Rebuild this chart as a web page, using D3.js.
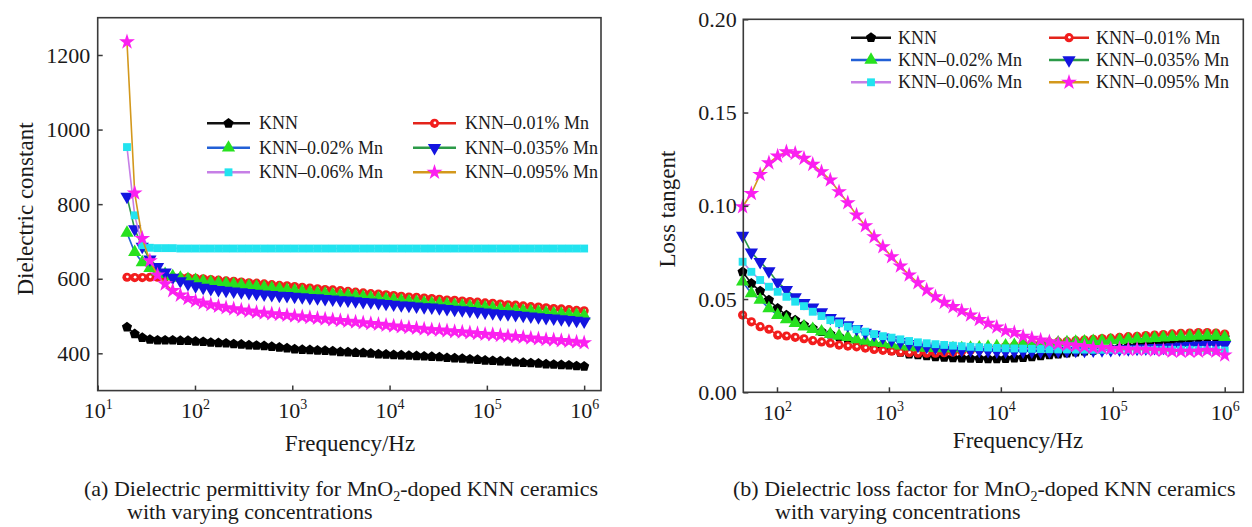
<!DOCTYPE html>
<html>
<head>
<meta charset="utf-8">
<script src="https://cdn.jsdelivr.net/npm/d3@7"></script>
<style>
  body { margin: 0; background: #fff; }
  svg text { font-family: "Liberation Serif", "Times New Roman", serif; fill: #1a1a1a; }
</style>
</head>
<body>
<svg id="fig" width="1252" height="527"></svg>
<script>
// measuring frequencies (Hz)
const freq = [20, 24, 28.7, 34.4, 41.2, 49.3, 59, 70.7, 84.7, 101.4,
  121.4, 145.4, 174.2, 208.6, 249.9, 299.3, 358.4, 429, 513.8, 615.4,
  737, 882.7, 1057, 1266, 1516, 1816, 2175, 2604, 3119, 3736,
  4472, 5356, 6415, 7683, 9199, 11018, 13196, 15803, 18926, 22669,
  27150, 32518, 38946, 46645, 55869, 66908, 80137, 95913, 114874, 137594,
  164790, 197374, 236380, 283118, 339100, 406140, 486430, 582540, 697740, 835700, 1000000];

// (a) dielectric constant
const epsKNN = [470,452,442,437,435,435,435,434,434,432, 431,429,428,427,425,424,422,421,420,418,
  416,414,411,410,409,408,407,406,404,403, 402,401,400,398,397,396,395,394,393,392,
  391,390,388,387,386,384,383,381,380,379, 378,376,375,374,373,371,370,369,368,366,365];
const epsMn01 = [604,603,603,604,604,604,604,603,603,601, 600,598,596,594,593,591,589,588,586,584,
  582,581,579,577,575,573,571,570,568,566, 564,562,560,559,557,555,553,551,550,548,
  547,545,543,542,540,539,537,535,534,532, 530,529,527,525,524,522,520,519,517,515,514];
const epsMn02 = [723,671,644,628,619,612,606,602,599,596, 593,591,589,587,585,583,581,579,577,575,
  573,570,568,566,564,562,560,558,556,555, 553,551,549,547,545,543,541,539,538,536,
  534,533,531,529,528,526,525,523,521,519, 518,516,514,513,511,509,507,506,504,503,501];
const epsMn035 = [820,733,686,652,632,617,603,594,586,580, 576,573,570,568,566,564,562,560,558,557,
  555,554,552,551,549,548,546,545,543,542, 540,538,537,535,533,531,529,528,526,524,
  523,521,519,517,516,514,512,510,508,506, 505,503,501,499,497,495,494,492,490,488,486];
const epsMn06 = [953,770,690,683,682,682,682,681,681,681, 681,681,681,681,681,681,681,681,681,681,
  681,681,681,681,681,681,681,681,681,681, 681,681,681,681,681,681,681,681,681,681,
  681,681,681,681,681,681,681,681,681,681, 681,681,681,681,681,681,681,681,681,681,681];
const epsMn095 = [1235,830,708,648,610,586,568,556,547,540, 535,530,526,522,519,516,513,510,508,506,
  504,502,500,498,496,494,492,490,488,486, 484,482,480,478,475,473,471,469,467,465,
  463,462,460,458,457,455,453,451,450,448, 446,445,443,441,439,437,436,434,432,430,428];

// (b) loss tangent, measured from 50 Hz (freq[5]) upward
const freqB = freq.slice(5);
const tanKNN = [0.0646,0.0584,0.0543,0.0495,0.045,0.0414,0.0387,0.036,0.0343,0.0325,
  0.0312,0.0298,0.0284,0.0271,0.0259,0.0248,0.0236,0.0223,0.0214,0.0205,
  0.020,0.0195,0.019,0.0187,0.0184,0.0183,0.0181,0.018,0.0179,0.0179,
  0.018,0.0183,0.0186,0.019,0.0195,0.020,0.0205,0.021,0.0215,0.022,
  0.0225,0.023,0.0235,0.024,0.0245,0.025,0.0255,0.026,0.0265,0.027,
  0.0275,0.028,0.0285,0.029,0.0293,0.0295];
const tanMn01 = [0.0414,0.0378,0.0352,0.0338,0.0307,0.0302,0.0295,0.0287,0.0277,0.027,
  0.0263,0.0253,0.0248,0.0244,0.0237,0.023,0.0225,0.022,0.0215,0.0212,
  0.021,0.021,0.021,0.0212,0.0215,0.022,0.0225,0.023,0.0235,0.024,
  0.0245,0.025,0.0255,0.026,0.0263,0.0266,0.027,0.0273,0.0277,0.028,
  0.0284,0.0288,0.029,0.0294,0.0298,0.030,0.0304,0.0307,0.031,0.0313,
  0.0316,0.0318,0.032,0.032,0.0318,0.0312];
const tanMn02 = [0.0593,0.053,0.0495,0.045,0.0414,0.0391,0.037,0.0352,0.0338,0.0325,
  0.0312,0.0302,0.0295,0.0284,0.0275,0.0268,0.0263,0.0257,0.025,0.0244,
  0.0241,0.0238,0.0236,0.0235,0.0235,0.0236,0.0238,0.024,0.0243,0.0246,
  0.025,0.0253,0.0256,0.026,0.0262,0.0264,0.0266,0.0268,0.027,0.0272,
  0.0274,0.0276,0.0278,0.028,0.0283,0.0286,0.0288,0.029,0.0293,0.0296,
  0.0298,0.030,0.0302,0.0303,0.0302,0.0295];
const tanMn035 = [0.084,0.075,0.070,0.065,0.059,0.055,0.051,0.048,0.0455,0.043,
  0.040,0.038,0.036,0.034,0.032,0.031,0.0295,0.028,0.027,0.026,
  0.025,0.0245,0.024,0.0235,0.023,0.0228,0.0226,0.0224,0.0222,0.022,
  0.022,0.022,0.022,0.022,0.022,0.022,0.0221,0.0222,0.0223,0.0224,
  0.0225,0.0226,0.0228,0.023,0.0232,0.0234,0.0236,0.0238,0.024,0.0243,
  0.0246,0.0249,0.0252,0.0254,0.0255,0.0255];
const tanMn06 = [0.070,0.0646,0.0602,0.0566,0.0539,0.0512,0.0486,0.0462,0.0432,0.0409,
  0.0387,0.037,0.0352,0.0338,0.0325,0.0312,0.0301,0.0293,0.0284,0.0275,
  0.0268,0.0263,0.0258,0.0254,0.025,0.0247,0.0244,0.0242,0.024,0.0238,
  0.0236,0.0235,0.0234,0.0233,0.0232,0.0231,0.023,0.023,0.0229,0.0229,
  0.0228,0.0228,0.0228,0.0228,0.0228,0.0228,0.0228,0.0228,0.0228,0.0228,
  0.0228,0.0228,0.0227,0.0226,0.0225,0.0224];
const tanMn095 = [0.0995,0.1066,0.1168,0.123,0.1266,0.1289,0.1281,0.1254,0.1222,0.1182,
  0.1138,0.1075,0.1016,0.095,0.0893,0.0834,0.078,0.0727,0.0677,0.0629,
  0.0587,0.0548,0.0512,0.0482,0.0459,0.0437,0.0414,0.039,0.037,0.035,
  0.033,0.032,0.030,0.029,0.028,0.027,0.026,0.0255,0.025,0.0245,
  0.024,0.024,0.0235,0.0235,0.023,0.023,0.023,0.0225,0.0225,0.022,
  0.022,0.022,0.022,0.0225,0.022,0.020];

const names = ["KNN", "KNN\u20130.01% Mn", "KNN\u20130.02% Mn", "KNN\u20130.035% Mn", "KNN\u20130.06% Mn", "KNN\u20130.095% Mn"];
const xTicksA = [10, 100, 1000, 1e4, 1e5, 1e6];
const xTicksB = [100, 1000, 1e4, 1e5, 1e6];
const yTicksA = [400, 600, 800, 1000, 1200];
const yTicksB = [0, 0.05, 0.10, 0.15, 0.20];

const lineColors = ["#111111", "#e3241b", "#2260d6", "#2b9a48", "#c67fe6", "#d3981c"];
const markColors = ["#000000", "#f21d1d", "#27e11f", "#1414e0", "#22e3ef", "#fb1ff0"];
const shapes = ["pentagon", "ring", "up", "down", "square", "star"];

const svg = d3.select("#fig");

const pentagon = {
  draw(ctx, size) {
    const r = Math.sqrt(size / 2.378);
    for (let i = 0; i < 5; i++) {
      const a = -Math.PI / 2 + i * 2 * Math.PI / 5;
      if (i) ctx.lineTo(r * Math.cos(a), r * Math.sin(a));
      else ctx.moveTo(r * Math.cos(a), r * Math.sin(a));
    }
    ctx.closePath();
  }
};

function drawMarker(g, shape, color) {
  if (shape === "ring") {
    g.append("circle").attr("r", 4.6).attr("fill", color);
    g.append("circle").attr("r", 1.4).attr("cx", 0.4).attr("cy", -0.4).attr("fill", "#fff");
    return;
  }
  let type = {pentagon: pentagon, up: d3.symbolTriangle, down: d3.symbolTriangle,
    square: d3.symbolSquare, star: d3.symbolStar}[shape];
  let size = {pentagon: 68, up: 76, down: 76, square: 62, star: 78}[shape];
  g.append("path")
    .attr("d", d3.symbol(type, size)())
    .attr("fill", color)
    .attr("transform", shape === "down" ? "rotate(180)" : null);
}

function panel(p) {
  let x = d3.scaleLog().domain(p.xDomain).range([p.left, p.right]);
  let y = d3.scaleLinear().domain(p.yDomain).range([p.bottom, p.top]);
  let g = svg.append("g");

  p.series.forEach((vals, i) => {
    let pts = vals.map((v, j) => [x(p.freq[j]), y(v)]);
    g.append("path")
      .attr("d", d3.line()(pts))
      .attr("fill", "none")
      .attr("stroke", lineColors[i])
      .attr("stroke-width", 1.6);
    g.append("g").selectAll("g")
      .data(pts)
      .join("g")
      .attr("transform", d => `translate(${d[0]},${d[1]})`)
      .each(function() { drawMarker(d3.select(this), shapes[i], markColors[i]); });
  });

  // frame
  g.append("rect")
    .attr("x", p.left).attr("y", p.top)
    .attr("width", p.right - p.left).attr("height", p.bottom - p.top)
    .attr("fill", "none").attr("stroke", "#3a3a3a").attr("stroke-width", 1.6);

  let ya = g.append("g")
    .attr("transform", `translate(${p.left},0)`)
    .call(d3.axisLeft(y).tickValues(p.yTicks).tickSize(-5).tickPadding(p.yPad).tickFormat(p.yFormat));
  ya.select(".domain").remove();
  ya.selectAll("line").attr("stroke", "#3a3a3a").attr("stroke-width", 1.5);
  ya.selectAll("text").attr("font-size", 22).attr("fill", "#1a1a1a");

  let xa = g.append("g")
    .attr("transform", `translate(0,${p.bottom})`)
    .call(d3.axisBottom(x).tickValues(p.xTicks).tickSize(-5).tickFormat(() => ""));
  xa.select(".domain").remove();
  xa.selectAll("line").attr("stroke", "#3a3a3a").attr("stroke-width", 1.5);
  xa.selectAll("text")
    .attr("y", 27.5).attr("dy", null)
    .attr("font-size", 22).attr("fill", "#1a1a1a")
    .each(function(d) {
      let t = d3.select(this);
      t.append("tspan").text("10");
      t.append("tspan").attr("font-size", 14).attr("dy", -9).text(Math.round(Math.log10(d)));
    });

  // axis titles
  g.append("text")
    .attr("transform", `translate(${p.yTitleX},${p.yTitleY}) rotate(-90)`)
    .attr("text-anchor", "middle")
    .attr("font-size", 23)
    .text(p.yTitle);
  g.append("text")
    .attr("x", p.xTitleX).attr("y", p.xTitleY)
    .attr("text-anchor", "middle")
    .attr("font-size", 23)
    .text("Frequency/Hz");

  // legend
  names.forEach((name, i) => {
    let col = i % 2, row = Math.floor(i / 2);
    let lx = p.legX[col], ly = p.legY + row * p.legDy;
    let lg = g.append("g");
    lg.append("line")
      .attr("x1", lx).attr("x2", lx + p.legLen)
      .attr("y1", ly).attr("y2", ly)
      .attr("stroke", lineColors[i]).attr("stroke-width", 2.4);
    drawMarker(lg.append("g").attr("transform", `translate(${lx + p.legLen / 2},${ly})`), shapes[i], markColors[i]);
    lg.append("text")
      .attr("x", lx + p.legLen + p.legGap).attr("y", ly)
      .attr("dy", "0.34em")
      .attr("font-size", 18)
      .text(name);
  });

  // caption
  let cap = g.append("text").attr("font-size", 22);
  cap.append("tspan").attr("x", p.capX).attr("y", p.capY).text(p.capHead + "MnO");
  cap.append("tspan").attr("font-size", 14).attr("dy", 5).text("2");
  cap.append("tspan").attr("dy", -5).text("-doped KNN ceramics");
  g.append("text").attr("font-size", 22)
    .attr("x", p.capX2).attr("y", p.capY + 23)
    .text("with varying concentrations");
}

panel({
  freq: freq,
  series: [epsKNN, epsMn01, epsMn02, epsMn035, epsMn06, epsMn095],
  xDomain: [10, 1.49e6], yDomain: [300, 1300],
  left: 97.7, right: 601, top: 17.7, bottom: 390.6,
  xTicks: xTicksA, yTicks: yTicksA, yFormat: d3.format("d"), yPad: 7.5,
  yTitle: "Dielectric constant", yTitleX: 33, yTitleY: 209,
  xTitleX: 350, xTitleY: 451,
  legX: [207, 413], legY: 123.3, legDy: 24.5, legLen: 43, legGap: 9,
  capX: 84, capX2: 127, capY: 496, capHead: "(a) Dielectric permittivity for "
});

panel({
  freq: freqB,
  series: [tanKNN, tanMn01, tanMn02, tanMn035, tanMn06, tanMn095],
  xDomain: [50, 1.466e6], yDomain: [0, 0.2],
  left: 743.3, right: 1243.3, top: 19.3, bottom: 392.3,
  xTicks: xTicksB, yTicks: yTicksB, yFormat: d3.format(".2f"), yPad: 6.6,
  yTitle: "Loss tangent", yTitleX: 675, yTitleY: 209,
  xTitleX: 1018, xTitleY: 448,
  legX: [851, 1049], legY: 37.7, legDy: 22.3, legLen: 40, legGap: 7,
  capX: 733, capX2: 775, capY: 496, capHead: "(b) Dielectric loss factor for "
});
</script>
</body>
</html>
